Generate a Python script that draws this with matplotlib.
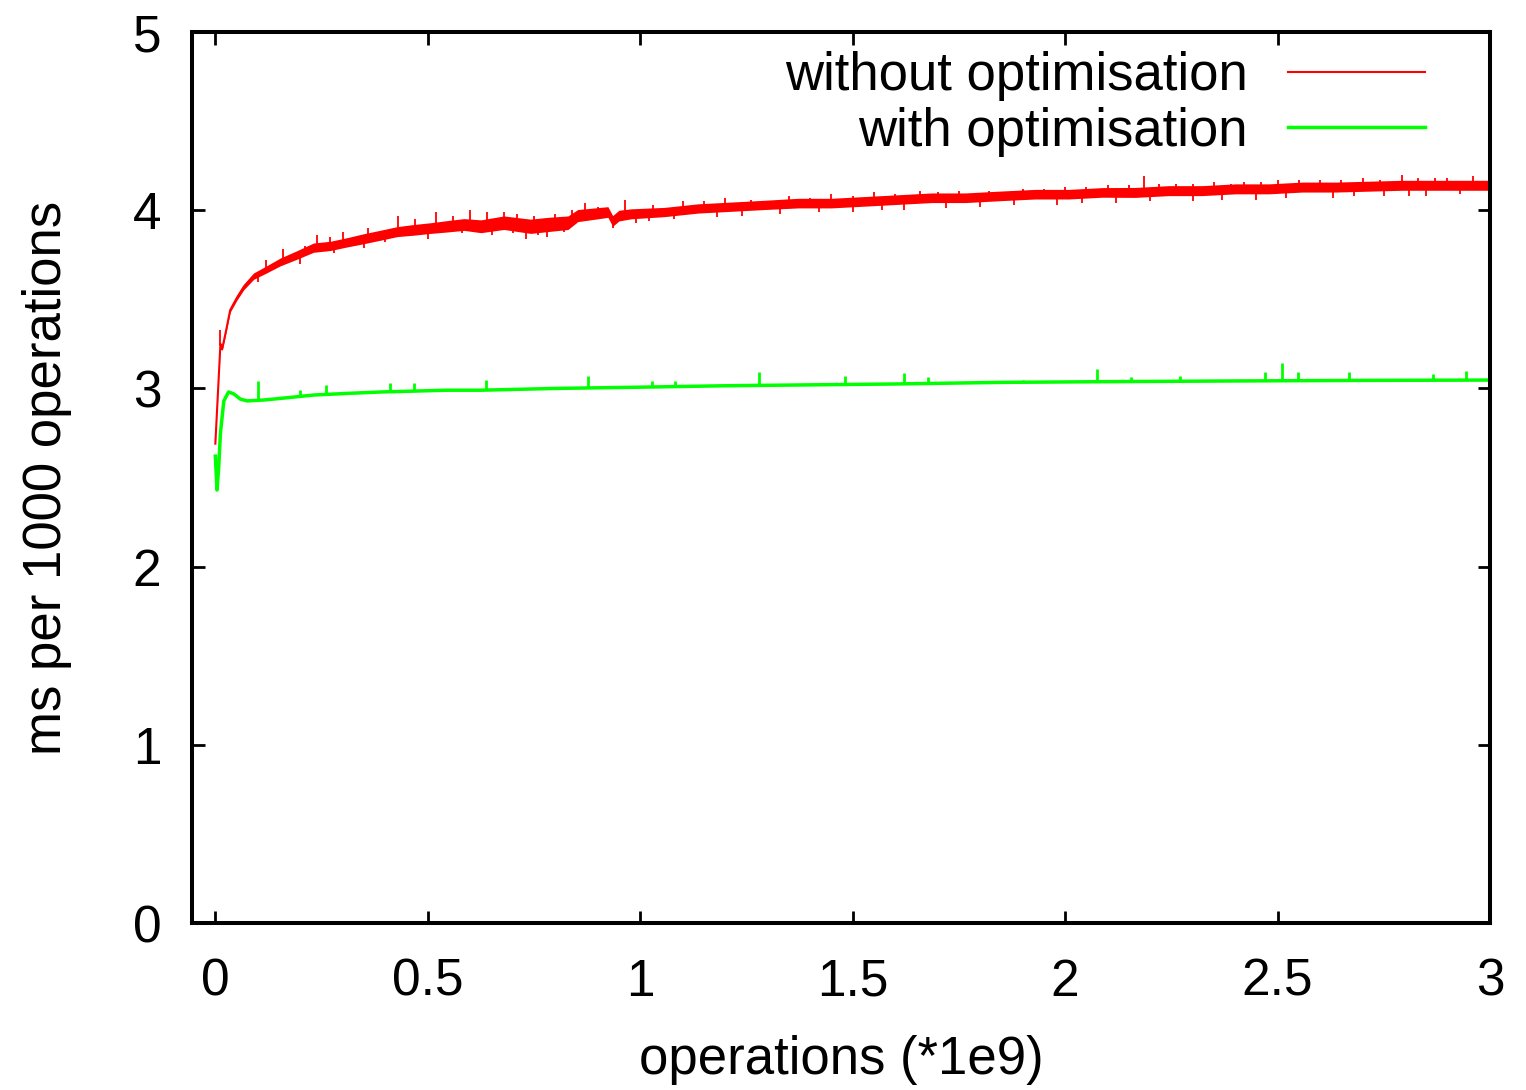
import numpy as np
import matplotlib
matplotlib.use('Agg')
import matplotlib.pyplot as plt

plt.rcParams['font.family'] = ['Liberation Sans', 'DejaVu Sans']

# red: without optimisation (x in 1e9 ops, trend value and half band width)
red_x = [0.0, 0.012, 0.016, 0.024, 0.035, 0.051, 0.067, 0.09, 0.122, 0.153, 0.193,
         0.231, 0.271, 0.31, 0.349, 0.389, 0.428, 0.467, 0.507, 0.546, 0.585,
         0.625, 0.679, 0.742, 0.782, 0.83, 0.853, 0.924, 0.935, 0.95, 0.979,
         1.057, 1.136, 1.215, 1.293, 1.372, 1.45, 1.529, 1.608, 1.686, 1.765,
         1.843, 1.929, 2.008, 2.087, 2.165, 2.244, 2.322, 2.401, 2.48, 2.558,
         2.637, 2.715, 2.794, 2.873, 3.0]
red_y = [2.69, 3.25, 3.22, 3.31, 3.44, 3.51, 3.57, 3.63, 3.67, 3.71, 3.75,
         3.79, 3.80, 3.82, 3.84, 3.86, 3.88, 3.89, 3.90, 3.91, 3.92,
         3.91, 3.93, 3.91, 3.92, 3.93, 3.97, 3.99, 3.94, 3.97, 3.98,
         3.99, 4.01, 4.02, 4.03, 4.04, 4.04, 4.05, 4.06, 4.07, 4.07,
         4.08, 4.09, 4.09, 4.10, 4.10, 4.11, 4.11, 4.12, 4.12, 4.13,
         4.13, 4.135, 4.14, 4.14, 4.14]
red_w = [0.0, 0.008, 0.008, 0.01, 0.012, 0.014, 0.016, 0.018, 0.02, 0.022, 0.024,
         0.026, 0.026, 0.026, 0.028, 0.028, 0.028, 0.03, 0.03, 0.032, 0.033,
         0.036, 0.038, 0.04, 0.04, 0.038, 0.034, 0.03, 0.03, 0.03, 0.028,
         0.026, 0.026, 0.026, 0.026, 0.027, 0.027, 0.027, 0.027, 0.027, 0.027,
         0.027, 0.027, 0.027, 0.027, 0.028, 0.028, 0.028, 0.028, 0.028, 0.028,
         0.028, 0.028, 0.028, 0.028, 0.028]
red_spike_x = [0.012, 0.12, 0.16, 0.21, 0.24, 0.27, 0.3, 0.36, 0.43, 0.47, 0.52,
               0.56, 0.6, 0.64, 0.68, 0.71, 0.75, 0.8, 0.84, 0.87, 0.9, 0.963,
               1.03, 1.1, 1.15, 1.2, 1.26, 1.35, 1.4, 1.45, 1.5, 1.55, 1.6,
               1.659, 1.7, 1.75, 1.82, 1.9, 1.95, 2.0, 2.05, 2.1, 2.15, 2.185,
               2.22, 2.26, 2.3, 2.35, 2.39, 2.42, 2.46, 2.5, 2.55, 2.6, 2.65,
               2.7, 2.74, 2.794, 2.83, 2.87, 2.9, 2.96]
red_spike_top = [3.33, 3.72, 3.78, 3.80, 3.86, 3.85, 3.88, 3.9, 3.97, 3.95, 3.99,
                 3.97, 4.0, 3.99, 3.99, 3.98, 3.97, 3.98, 4.0, 4.04, 4.02, 4.06,
                 4.03, 4.05, 4.05, 4.07, 4.06, 4.08, 4.07, 4.09, 4.08, 4.1, 4.09,
                 4.11, 4.1, 4.11, 4.11, 4.12, 4.12, 4.13, 4.13, 4.14, 4.14, 4.19,
                 4.15, 4.15, 4.15, 4.16, 4.15, 4.16, 4.16, 4.17, 4.17, 4.17, 4.17,
                 4.18, 4.17, 4.2, 4.18, 4.18, 4.18, 4.19]
red_dip_x = [0.1, 0.2, 0.28, 0.35, 0.4, 0.5, 0.58, 0.65, 0.7, 0.73, 0.76, 0.78,
             0.82, 0.935, 0.99, 1.02, 1.08, 1.18, 1.24, 1.33, 1.42, 1.5, 1.57,
             1.62, 1.72, 1.8, 1.88, 1.98, 2.04, 2.12, 2.2, 2.3, 2.37, 2.45, 2.52,
             2.63, 2.68, 2.75, 2.81, 2.85, 2.93]
red_dip_bot = [3.6, 3.70, 3.76, 3.79, 3.82, 3.84, 3.87, 3.86, 3.87, 3.84, 3.86, 3.85,
               3.88, 3.90, 3.93, 3.94, 3.95, 3.96, 3.97, 3.98, 3.99, 3.99, 4.0,
               4.00, 4.01, 4.02, 4.03, 4.03, 4.04, 4.04, 4.05, 4.05, 4.06, 4.06, 4.07,
               4.07, 4.08, 4.08, 4.08, 4.08, 4.09]

# green: with optimisation
green_x = [0.0, 0.004, 0.008, 0.012, 0.02, 0.031, 0.043, 0.059, 0.075, 0.114,
           0.153, 0.232, 0.31, 0.389, 0.467, 0.546, 0.625, 0.8, 1.0, 1.2,
           1.4, 1.6, 1.851, 2.1, 2.4, 2.7, 3.0]
green_y = [2.62, 2.43, 2.56, 2.75, 2.93, 2.98, 2.97, 2.94, 2.93, 2.935,
           2.944, 2.963, 2.972, 2.98, 2.985, 2.99, 2.99, 3.0, 3.007, 3.015,
           3.02, 3.025, 3.034, 3.038, 3.042, 3.045, 3.047]
green_spike_x = [0.1, 0.2, 0.26, 0.41, 0.467, 0.636, 0.877, 1.028, 1.082, 1.28,
                 1.481, 1.62, 1.678, 1.9, 2.075, 2.154, 2.271, 2.47, 2.51,
                 2.549, 2.668, 2.867, 2.944]
green_spike_top = [3.04, 2.99, 3.02, 3.03, 3.03, 3.05, 3.07, 3.04, 3.04, 3.09,
                   3.07, 3.085, 3.065, 3.05, 3.11, 3.065, 3.07, 3.09, 3.14,
                   3.09, 3.09, 3.08, 3.10]

red_x = np.array(red_x)
red_y = np.array(red_y)
red_w = np.array(red_w)

fig = plt.figure(figsize=(15.26, 10.9), dpi=100)
ax = fig.add_axes([0.1258, 0.1532, 0.8506, 0.8174])

ax.fill_between(red_x, red_y - red_w, red_y + red_w, color='#ff0000', lw=0)
ax.plot(red_x, red_y, color='#ff0000', lw=1.5, label='without optimisation')
ax.vlines(red_spike_x, np.interp(red_spike_x, red_x, red_y), red_spike_top,
          color='#ff0000', lw=1.3)
ax.vlines(red_dip_x, red_dip_bot, np.interp(red_dip_x, red_x, red_y),
          color='#ff0000', lw=1.3)

ax.plot(green_x, green_y, color='#00ff00', lw=2.5, label='with optimisation')
ax.vlines(green_spike_x, np.interp(green_spike_x, green_x, green_y), green_spike_top,
          color='#00ff00', lw=2)

ax.set_xlim(-0.055, 3.0)
ax.set_ylim(0, 5)
ax.set_xticks([0, 0.5, 1, 1.5, 2, 2.5, 3])
ax.set_xticklabels(['0', '0.5', '1', '1.5', '2', '2.5', '3'])
ax.set_yticks([0, 1, 2, 3, 4, 5])

for s in ax.spines.values():
    s.set_linewidth(2.9)
ax.tick_params(direction='in', length=9, width=2, labelsize=37,
               top=True, right=True)
ax.tick_params(axis='x', pad=25)
ax.tick_params(axis='y', pad=22)

ax.set_xlabel('operations (*1e9)', fontsize=38, labelpad=20)
ax.set_ylabel('ms per 1000 operations', fontsize=38, labelpad=44)

ax.legend(loc='upper right', bbox_to_anchor=(0.966, 1.002), frameon=False,
          markerfirst=False, fontsize=38, handlelength=2.6, handletextpad=0.75,
          labelspacing=0.1, borderaxespad=0.0)

fig.savefig('out.png', dpi=100)
